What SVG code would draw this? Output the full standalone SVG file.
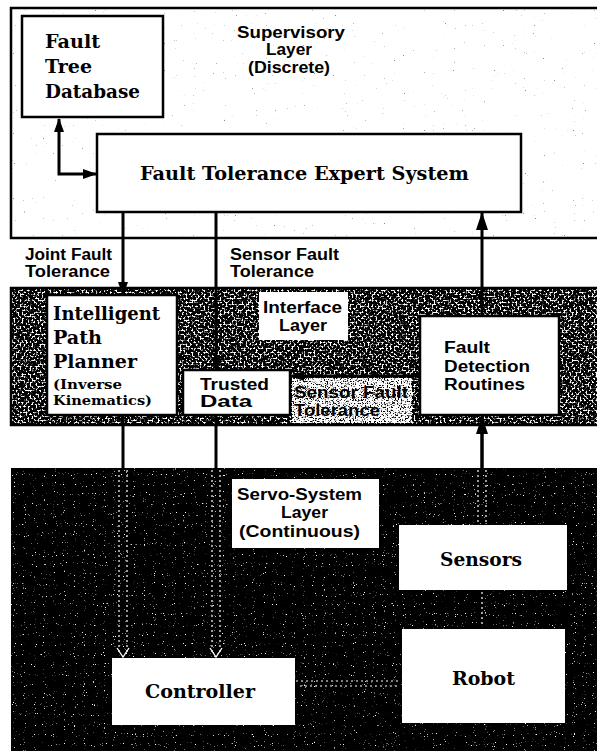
<svg xmlns="http://www.w3.org/2000/svg" width="597" height="751" viewBox="0 0 597 751">
  <style>
    .serif { font-family: "DejaVu Serif", "Liberation Serif", serif; font-weight: bold; fill: #000; }
    .sans { font-family: "Liberation Sans", Arial, sans-serif; font-weight: bold; fill: #000; }
    .box { fill: #fff; stroke: #000; stroke-width: 2.5; }
    .plain { fill: #fff; }
    .wire { fill: none; stroke: #000; stroke-width: 3; }
    .ghost { fill: none; stroke: #fff; stroke-width: 1.2; stroke-dasharray: 2 3; }
  </style>
  <defs>
    <marker id="arrow" markerUnits="userSpaceOnUse" markerWidth="14" markerHeight="10" refX="13" refY="5" orient="auto-start-reverse">
      <path d="M0,0 L14,5 L0,10 z" fill="#000"/>
    </marker>
    <marker id="arrowBig" markerUnits="userSpaceOnUse" markerWidth="18" markerHeight="12" refX="17" refY="6" orient="auto-start-reverse">
      <path d="M0,0 L18,6 L0,12 z" fill="#000"/>
    </marker>
    <!-- grain used for the shaded layer bands -->
    <filter id="grainMid" x="0" y="0" width="1" height="1" color-interpolation-filters="sRGB">
      <feTurbulence type="fractalNoise" baseFrequency="0.5" numOctaves="2" seed="7"/>
      <feColorMatrix type="matrix" values="0 0 0 0 1  0 0 0 0 1  0 0 0 0 1  7 0 0 0 -3.5"/>
    </filter>
    <filter id="grainLight" x="0" y="0" width="1" height="1" color-interpolation-filters="sRGB">
      <feTurbulence type="fractalNoise" baseFrequency="0.7" numOctaves="2" seed="11"/>
      <feColorMatrix type="matrix" values="0 0 0 0 1  0 0 0 0 1  0 0 0 0 1  8 0 0 0 -2.9"/>
    </filter>
    <filter id="grainSparse" x="0" y="0" width="1" height="1" color-interpolation-filters="sRGB">
      <feTurbulence type="fractalNoise" baseFrequency="0.9" numOctaves="1" seed="3"/>
      <feColorMatrix type="matrix" values="0 0 0 0 1  0 0 0 0 1  0 0 0 0 1  12 0 0 0 -8.2"/>
    </filter>
    <filter id="grainFaint" x="0" y="0" width="1" height="1" color-interpolation-filters="sRGB">
      <feTurbulence type="fractalNoise" baseFrequency="0.9 0.6" numOctaves="1" seed="5"/>
      <feColorMatrix type="matrix" values="0 0 0 0 0.55  0 0 0 0 0.55  0 0 0 0 0.55  14 0 0 0 -10.3"/>
    </filter>
  </defs>

  <rect width="597" height="751" fill="#fff"/>

  <!-- Supervisory layer (discrete) -->
  <g id="supervisory-layer">
    <rect x="11" y="8" width="600" height="230" fill="#fff" filter="url(#grainFaint)"/>
    <path d="M597,8 L11,8 L11,238 L597,238" fill="none" stroke="#000" stroke-width="2.5"/>
    <text class="sans" font-size="16" x="237" y="38" textLength="108" lengthAdjust="spacingAndGlyphs">Supervisory</text>
    <text class="sans" font-size="16" x="266" y="55" textLength="46" lengthAdjust="spacingAndGlyphs">Layer</text>
    <text class="sans" font-size="16" x="248" y="73" textLength="82" lengthAdjust="spacingAndGlyphs">(Discrete)</text>
  </g>

  <!-- Interface layer band -->
  <g id="interface-layer">
    <rect x="11" y="288" width="600" height="137" fill="#000"/>
    <rect x="11" y="288" width="600" height="137" fill="#000" filter="url(#grainMid)"/>
    <rect x="292" y="378" width="120" height="45" fill="#000" filter="url(#grainLight)"/>
    <path d="M597,288 L11,288 L11,425 L597,425" fill="none" stroke="#000" stroke-width="2.5"/>
    <rect class="plain" x="259" y="292" width="89" height="48"/>
    <text class="sans" font-size="16" x="263" y="313" textLength="79" lengthAdjust="spacingAndGlyphs">Interface</text>
    <text class="sans" font-size="16" x="279" y="331" textLength="48" lengthAdjust="spacingAndGlyphs">Layer</text>
  </g>

  <!-- Servo-system layer (continuous) -->
  <g id="servo-layer">
    <rect x="11" y="468" width="600" height="283" fill="#000"/>
    <rect x="11" y="468" width="600" height="283" fill="#000" filter="url(#grainSparse)"/>
    <rect class="plain" x="232" y="479" width="147" height="69"/>
    <text class="sans" font-size="16.5" x="237" y="500" textLength="125" lengthAdjust="spacingAndGlyphs">Servo-System</text>
    <text class="sans" font-size="16.5" x="281" y="518" textLength="47" lengthAdjust="spacingAndGlyphs">Layer</text>
    <text class="sans" font-size="16.5" x="239" y="537" textLength="121" lengthAdjust="spacingAndGlyphs">(Continuous)</text>
  </g>

  <!-- Connectors -->
  <g id="connectors">
    <path class="wire" d="M59,119 L59,174 L96,174" marker-start="url(#arrow)" marker-end="url(#arrow)"/>
    <path class="wire" d="M123,212 L123,295" marker-end="url(#arrow)"/>
    <path class="wire" d="M216,212 L216,370" marker-end="url(#arrow)"/>
    <path class="wire" d="M482,316 L482,213" marker-end="url(#arrowBig)"/>
    <path class="wire" d="M420,376 L291,376" marker-end="url(#arrow)"/>
    <path class="wire" d="M482,468 L482,417" marker-end="url(#arrowBig)"/>
    <line class="wire" x1="482" y1="425" x2="482" y2="468"/>
    <line class="wire" x1="123" y1="415" x2="123" y2="468"/>
    <line class="wire" x1="216" y1="415" x2="216" y2="468"/>
    <!-- traces through the dark servo band -->
    <line class="ghost" x1="119" y1="470" x2="119" y2="652"/>
    <line class="ghost" x1="127" y1="470" x2="127" y2="652"/>
    <line class="ghost" x1="212" y1="470" x2="212" y2="652"/>
    <line class="ghost" x1="220" y1="470" x2="220" y2="652"/>
    <line class="ghost" x1="478" y1="470" x2="478" y2="522"/>
    <line class="ghost" x1="486" y1="470" x2="486" y2="522"/>
    <polyline points="117,648 123,657 129,648" fill="none" stroke="#fff" stroke-width="1.3"/>
    <polyline points="210,648 216,657 222,648" fill="none" stroke="#fff" stroke-width="1.3"/>
    <line class="ghost" x1="296" y1="681" x2="400" y2="681"/>
    <line class="ghost" x1="300" y1="686" x2="398" y2="686" stroke-width="0.8"/>
    <line class="ghost" x1="482" y1="592" x2="482" y2="627" stroke-width="0.9"/>
  </g>

  <g id="fault-tree-database">
    <rect class="box" x="22" y="16" width="141" height="101"/>
    <text class="serif" font-size="18" x="45" y="48" textLength="55" lengthAdjust="spacingAndGlyphs">Fault</text>
    <text class="serif" font-size="18" x="45" y="73" textLength="47" lengthAdjust="spacingAndGlyphs">Tree</text>
    <text class="serif" font-size="18" x="45" y="98" textLength="95" lengthAdjust="spacingAndGlyphs">Database</text>
  </g>

  <g id="fault-tolerance-expert-system">
    <rect class="box" x="97" y="134" width="424" height="78"/>
    <text class="serif" font-size="18" x="140" y="180" textLength="329" lengthAdjust="spacingAndGlyphs">Fault Tolerance Expert System</text>
  </g>

  <g id="labels">
    <text class="sans" font-size="16" x="25" y="260" textLength="87" lengthAdjust="spacingAndGlyphs">Joint Fault</text>
    <text class="sans" font-size="16" x="25" y="277" textLength="85" lengthAdjust="spacingAndGlyphs">Tolerance</text>
    <text class="sans" font-size="16" x="230" y="260" textLength="109" lengthAdjust="spacingAndGlyphs">Sensor Fault</text>
    <text class="sans" font-size="16" x="230" y="277" textLength="84" lengthAdjust="spacingAndGlyphs">Tolerance</text>
    <text class="sans" font-size="16" x="294" y="398" textLength="114" lengthAdjust="spacingAndGlyphs">Sensor Fault</text>
    <text class="sans" font-size="16" x="294" y="416" textLength="86" lengthAdjust="spacingAndGlyphs">Tolerance</text>
  </g>

  <g id="intelligent-path-planner">
    <rect class="box" x="47" y="295" width="130" height="120"/>
    <text class="serif" font-size="18" x="53" y="320" textLength="107" lengthAdjust="spacingAndGlyphs">Intelligent</text>
    <text class="serif" font-size="18" x="53" y="344" textLength="49" lengthAdjust="spacingAndGlyphs">Path</text>
    <text class="serif" font-size="18" x="53" y="368" textLength="84" lengthAdjust="spacingAndGlyphs">Planner</text>
    <text class="serif" font-size="13" x="53" y="389" textLength="69" lengthAdjust="spacingAndGlyphs">(Inverse</text>
    <text class="serif" font-size="13" x="53" y="405" textLength="99" lengthAdjust="spacingAndGlyphs">Kinematics)</text>
  </g>

  <g id="trusted-data">
    <rect class="box" x="183" y="370" width="107" height="45"/>
    <text class="sans" font-size="16" x="200" y="390" textLength="69" lengthAdjust="spacingAndGlyphs">Trusted</text>
    <text class="sans" font-size="16" x="200" y="407" textLength="52" lengthAdjust="spacingAndGlyphs">Data</text>
  </g>

  <g id="fault-detection-routines">
    <rect class="box" x="420" y="316" width="139" height="99"/>
    <text class="sans" font-size="16" x="444" y="353" textLength="46" lengthAdjust="spacingAndGlyphs">Fault</text>
    <text class="sans" font-size="16" x="444" y="372" textLength="86" lengthAdjust="spacingAndGlyphs">Detection</text>
    <text class="sans" font-size="16" x="444" y="390" textLength="81" lengthAdjust="spacingAndGlyphs">Routines</text>
  </g>

  <g id="sensors">
    <rect class="plain" x="399" y="525" width="168" height="65"/>
    <text class="serif" font-size="18" x="440" y="566" textLength="82" lengthAdjust="spacingAndGlyphs">Sensors</text>
  </g>

  <g id="robot">
    <rect class="plain" x="402" y="629" width="163" height="94"/>
    <text class="serif" font-size="18" x="452" y="685" textLength="63" lengthAdjust="spacingAndGlyphs">Robot</text>
  </g>

  <g id="controller">
    <rect class="plain" x="112" y="658" width="183" height="67"/>
    <text class="serif" font-size="18" x="145" y="698" textLength="110" lengthAdjust="spacingAndGlyphs">Controller</text>
  </g>
</svg>
